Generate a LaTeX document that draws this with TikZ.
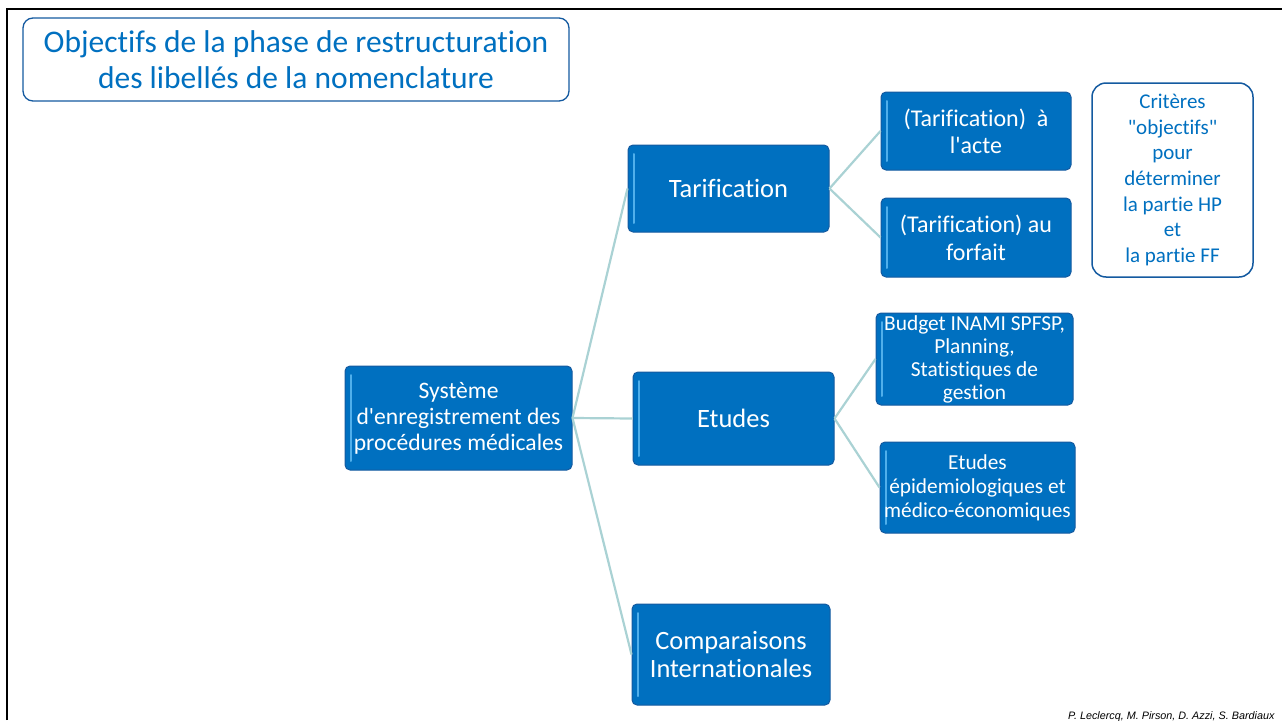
\documentclass[tikz,border=0pt]{standalone}
\usepackage{fontspec}
\setmainfont{Carlito}[Ligatures={TeXOff,NoCommon}]
\newfontfamily\footfont{Liberation Sans}
\definecolor{boxblue}{RGB}{0,112,192}
\definecolor{boxedge}{RGB}{20,90,160}
\definecolor{boxshine}{RGB}{80,175,235}
\definecolor{linkteal}{RGB}{170,210,212}
\begin{document}
\begin{tikzpicture}[x=1pt,y=-1pt,
	bluebox/.style={draw=boxedge,line width=1pt,fill=boxblue,rounded corners=5pt,text=white,align=center,inner sep=1pt,
		path picture={\draw[boxshine,line width=2pt,line cap=round] ([xshift=6pt,yshift=-9pt]path picture bounding box.north west) -- ([xshift=6pt,yshift=9pt]path picture bounding box.south west);}},
	whitebox/.style={draw=boxedge,line width=1.5pt,fill=white,rounded corners=14pt,text=boxblue,align=center,inner sep=1pt},
	link/.style={draw=linkteal,line width=2.2pt}]
	\useasboundingbox (0,0) rectangle (1282,720);
	\draw[line width=2.5pt] (7,720) -- (7,9) -- (1282,9);

	\node[whitebox,line width=1.3pt,rounded corners=10pt,minimum width=546pt,minimum height=83pt,font=\fontsize{31.5}{36}\selectfont] (title) at (296,59.5) {Objectifs de la phase de restructuration\\des libellés de la nomenclature};

	\node[bluebox,minimum width=227pt,minimum height=104pt,font=\fontsize{23.6}{26}\selectfont] (root) at (458.5,418) {Système\\d'enregistrement des\\procédures médicales};

	\node[bluebox,minimum width=201pt,minimum height=87pt,font=\fontsize{26.5}{28}\selectfont] (tarif) at (728.5,188.5) {Tarification};
	\node[bluebox,minimum width=201pt,minimum height=93pt,font=\fontsize{26.5}{28}\selectfont] (etudes) at (733.5,418.5) {Etudes};
	\node[bluebox,minimum width=198pt,minimum height=101pt,font=\fontsize{26.4}{28}\selectfont] (comp) at (731,654.5) {Comparaisons\\Internationales};

	\node[bluebox,minimum width=190pt,minimum height=78pt,font=\fontsize{24}{27}\selectfont] (acte) at (976,131) {(Tarification)~ à\\l'acte};
	\node[bluebox,minimum width=190pt,minimum height=79pt,font=\fontsize{24}{28}\selectfont] (forfait) at (976,237.5) {(Tarification) au\\forfait};
	\node[bluebox,minimum width=197pt,minimum height=92pt,font=\fontsize{21.4}{23}\selectfont] (budget) at (974.5,359) {Budget INAMI SPFSP,\\Planning,\\Statistiques de\\gestion};
	\node[bluebox,minimum width=195pt,minimum height=91pt,font=\fontsize{21.3}{24}\selectfont] (epid) at (977.5,487.5) {Etudes\\épidemiologiques et\\médico-économiques};

	\node[whitebox,minimum width=161pt,minimum height=194pt,font=\fontsize{21}{25.7}\selectfont] (crit) at (1172.5,180) {Critères\\"objectifs"\\pour\\déterminer\\la partie HP\\et\\la partie FF};

	\foreach \child in {tarif,etudes,comp}
		\draw[link] (root.east) -- (\child.west);
	\foreach \child in {acte,forfait}
		\draw[link] (tarif.east) -- (\child.west);
	\foreach \child in {budget,epid}
		\draw[link] (etudes.east) -- (\child.west);

	\node[anchor=base east,font=\footfont\itshape\fontsize{10.8}{12}\selectfont] (credits) at (1278,719) {P. Leclercq, M. Pirson, D. Azzi, S. Bardiaux};
\end{tikzpicture}
\end{document}
